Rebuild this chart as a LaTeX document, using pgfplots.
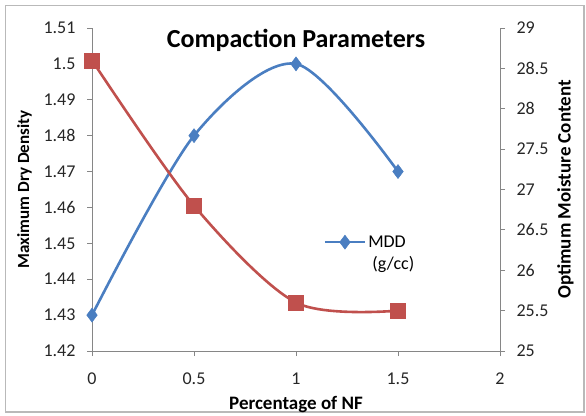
\documentclass[border=0pt]{standalone}
\usepackage{pgfplots}
\pgfplotsset{compat=1.18}
\usepackage{fontspec}
\setmainfont{Carlito}
\definecolor{mddblue}{RGB}{74,126,193}
\definecolor{omcred}{RGB}{192,80,77}
\definecolor{axgray}{RGB}{134,134,134}
\begin{document}
\begin{tikzpicture}[x=1bp,y=1bp]
\path (0,0) rectangle (586,414);
\draw[gray!55, line width=1.5bp] (5.5,2) rectangle (584,408.5);
\begin{axis}[
  at={(92bp,63bp)}, anchor=south west,
  scale only axis, width=408bp, height=323bp,
  xmin=0, xmax=2, ymin=1.42, ymax=1.51,
  xtick={0,0.5,1,1.5,2},
  ytick={1.42,1.43,1.44,1.45,1.46,1.47,1.48,1.49,1.5,1.51},
  yticklabels={1.42,1.43,1.44,1.45,1.46,1.47,1.48,1.49,1.5,1.51},
  xticklabels={0,0.5,1,1.5,2},
  axis x line*=bottom, axis y line*=left,
  axis line style={axgray, line width=0.8bp, -},
  tick style={axgray, line width=0.8bp},
  tick align=outside, major tick length=5bp,
  ticklabel style={font=\fontsize{18bp}{20bp}\selectfont, text=black!85},
  xticklabel style={yshift=-13bp},
  yticklabel style={xshift=-8bp},
  xlabel={\textbf{Percentage of NF}},
  ylabel={\textbf{Maximum Dry Density}},
  xlabel style={font=\fontsize{19bp}{21bp}\selectfont, yshift=-5bp},
  ylabel style={font=\fontsize{17bp}{19bp}\selectfont, yshift=5bp},
  legend style={draw=none, fill=none, at={(0.56,0.337)}, anchor=west,
    font=\fontsize{18bp}{20bp}\selectfont},
  legend image code/.code={
    \draw[#1, mark repeat=2, mark phase=2] plot coordinates {(0bp,0bp) (20bp,0bp) (40bp,0bp)};},
  legend cell align=left,
]
\addplot[mddblue, line width=2.6bp, smooth, tension=0.5, mark=diamond*, mark size=7bp, mark options={fill=mddblue, line width=0.5bp}]
  coordinates {(0,1.43) (0.5,1.48) (1,1.50) (1.5,1.47)};
\addlegendentry{MDD}
\node[font=\fontsize{26bp}{30bp}\selectfont\bfseries] at (axis cs:1,1.5065) {Compaction Parameters};
\node[font=\fontsize{18bp}{20bp}\selectfont, anchor=west, inner sep=0pt] at (axis cs:1.373,1.444) {(g/cc)};
\end{axis}
\begin{axis}[
  at={(92bp,63bp)}, anchor=south west,
  scale only axis, width=408bp, height=323bp,
  xmin=0, xmax=2, ymin=25, ymax=29,
  ytick={25,25.5,26,26.5,27,27.5,28,28.5,29},
  yticklabels={25,25.5,26,26.5,27,27.5,28,28.5,29},
  axis x line=none, axis y line*=right,
  axis line style={axgray, line width=0.8bp, -},
  tick style={axgray, line width=0.8bp},
  tick align=outside, major tick length=5bp,
  ticklabel style={font=\fontsize{18bp}{20bp}\selectfont, text=black!85},
  yticklabel style={xshift=8bp},
  ylabel={\textbf{Optimum Moisture Content}},
  ylabel style={font=\fontsize{19bp}{21bp}\selectfont, yshift=-2bp},
]
\addplot[omcred, line width=2.6bp, smooth, tension=0.5, mark=square*, mark size=7.5bp, mark options={fill=omcred, line width=0.5bp}]
  coordinates {(0,28.6) (0.5,26.8) (1,25.6) (1.5,25.5)};
\end{axis}
\end{tikzpicture}
\end{document}
